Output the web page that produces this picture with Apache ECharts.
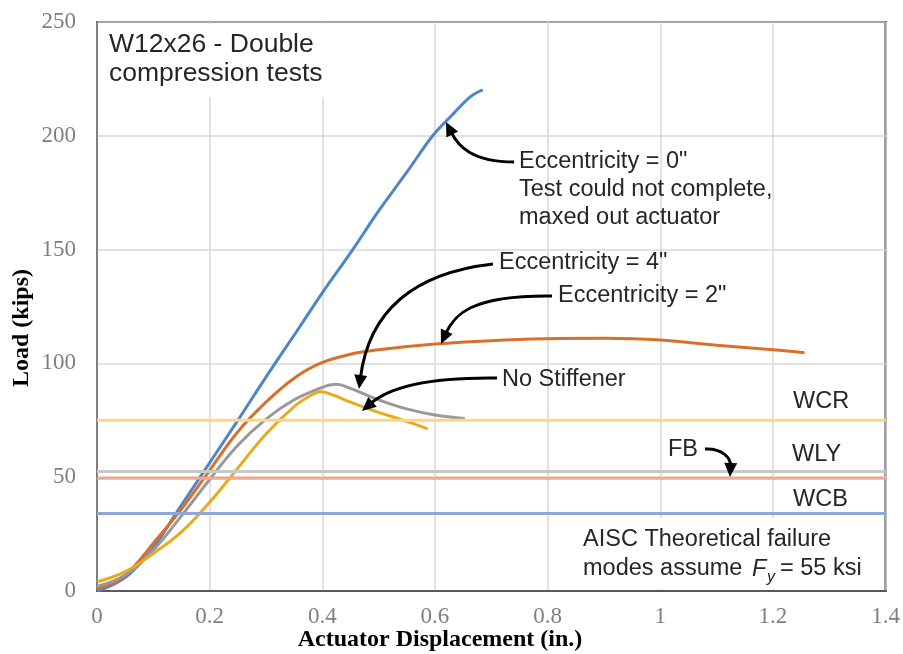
<!DOCTYPE html>
<html>
<head>
<meta charset="utf-8">
<script src="https://cdn.jsdelivr.net/npm/echarts@6/dist/echarts.min.js"></script>
<style>
  html, body { margin: 0; padding: 0; background: #fff; }
  #container { width: 903px; height: 654px; }
</style>
</head>
<body>
<div id="container"></div>
<script>
// test curves, [displacement (in.), load (kips)]
var ecc0 = [[0,0],[0.03,3],[0.06,8],[0.1,19],[0.14,34],[0.183,50],[0.25,75],[0.3,94],[0.357,115],
    [0.4,131],[0.454,150],[0.5,167],[0.55,184],[0.596,200],[0.63,209],[0.662,217],[0.68,219.7],[0.685,220]];
var ecc2 = [[0,1],[0.04,5],[0.07,12],[0.1,21],[0.15,36],[0.2,53],[0.25,70],[0.3,83],[0.35,93.5],[0.396,100],
    [0.45,104],[0.5,106],[0.6,108.5],[0.7,110],[0.8,110.8],[0.9,111],[1.0,110.3],[1.1,108],[1.2,106],[1.256,104.7]];
var ecc4 = [[0,2],[0.05,7],[0.1,18],[0.15,33],[0.2,49],[0.25,64],[0.3,75.5],[0.35,84],[0.4,89.5],[0.425,90.8],
    [0.45,89],[0.5,84],[0.55,80],[0.6,77.3],[0.653,75.8]];
var noStiff = [[0,4],[0.05,8.5],[0.1,16.5],[0.15,26],[0.2,39],[0.25,54],[0.3,69],[0.35,81],[0.38,86],
    [0.397,87.5],[0.42,86],[0.45,83],[0.5,78.5],[0.55,74.5],[0.587,71.2]];

// AISC theoretical failure modes
var limitNames = ['WCR', 'WLY', 'FB', 'WCB'];
var limitLoads = [75, 52.5, 49.5, 34];
var limitColors = ['#ffd58a', '#c8c8c8', '#f4a78a', '#8ea7d8'];

var xTicks = [0, 1.4, 0.2];
var yTicks = [0, 250, 50];

var dom = document.getElementById("container");
var myChart = echarts.init(dom);

var txt = function (x, y, s, size, extra) {
    var style = {
        x: x, y: y, text: s,
        fontFamily: 'Liberation Sans, Arial, sans-serif',
        fontSize: size || 23.5,
        fill: '#262626',
        verticalAlign: 'middle'
    };
    for (var k in extra) style[k] = extra[k];
    return { type: 'text', z: 100, silent: true, style: style };
};

// curved arrow: cubic from p0 to tip, filled head
var arrow = function (p0, c1, c2, tip) {
    var dx = tip[0] - c2[0], dy = tip[1] - c2[1];
    var len = Math.sqrt(dx * dx + dy * dy);
    var ux = dx / len, uy = dy / len;
    var hl = 14, hw = 6.5;
    var bx = tip[0] - ux * hl, by = tip[1] - uy * hl;
    return [{
        type: 'bezierCurve', z: 100, silent: true,
        shape: { x1: p0[0], y1: p0[1], cpx1: c1[0], cpy1: c1[1], cpx2: c2[0], cpy2: c2[1], x2: bx + ux * 3, y2: by + uy * 3 },
        style: { stroke: '#000', lineWidth: 3, fill: null }
    }, {
        type: 'polygon', z: 100, silent: true,
        shape: { points: [tip, [bx - uy * hw, by + ux * hw], [bx + uy * hw, by - ux * hw]] },
        style: { fill: '#000' }
    }];
};

var series = [
    { name: 'Eccentricity = 0"', data: ecc0, color: '#4f86c6' },
    { name: 'Eccentricity = 2"', data: ecc2, color: '#d9702a' },
    { name: 'Eccentricity = 4"', data: ecc4, color: '#999999' },
    { name: 'No Stiffener', data: noStiff, color: '#e6ac1e' }
].map(function (s) {
    return {
        name: s.name, type: 'line', data: s.data, smooth: 0.4, showSymbol: false,
        lineStyle: { color: s.color, width: 3 }, z: 3
    };
});
limitNames.forEach(function (n, i) {
    series.push({
        name: n, type: 'line', showSymbol: false, z: 4,
        data: [[xTicks[0], limitLoads[i]], [xTicks[1], limitLoads[i]]],
        lineStyle: { color: limitColors[i], width: 3 }
    });
});

var graphics = [
    { type: 'rect', z: 1, silent: true, shape: { x: 99, y: 24, width: 322, height: 73 }, style: { fill: '#fff' } },
    { type: 'rect', z: 1, silent: true, shape: { x: 575, y: 518, width: 309, height: 71 }, style: { fill: '#fff' } },
    txt(109, 45, 'W12x26 - Double', 26.5),
    txt(109, 74, 'compression tests', 26.5),
    txt(519, 162, 'Eccentricity = 0"'),
    txt(519, 190, 'Test could not complete,'),
    txt(519, 218, 'maxed out actuator'),
    txt(499, 263, 'Eccentricity = 4"'),
    txt(558, 296, 'Eccentricity = 2"'),
    txt(502, 380, 'No Stiffener'),
    txt(793, 402, 'WCR'),
    txt(668, 450, 'FB'),
    txt(792, 455, 'WLY'),
    txt(793, 500, 'WCB'),
    txt(583, 540, 'AISC Theoretical failure'),
    txt(583, 569, 'modes assume'),
    txt(752, 569, 'F', 23.5, { fontStyle: 'italic' }),
    txt(767, 578, 'y', 16, { fontStyle: 'italic' }),
    txt(780, 569, '= 55 ksi'),
    { type: 'text', z: 100, silent: true, style: {
        x: 440, y: 640, text: 'Actuator Displacement (in.)', align: 'center', verticalAlign: 'middle',
        fontFamily: 'Liberation Serif, Times New Roman, serif', fontWeight: 'bold', fontSize: 24, fill: '#000' } },
    { type: 'text', z: 100, silent: true, x: 22, y: 328, rotation: Math.PI / 2, style: {
        x: 0, y: 0, text: 'Load (kips)', align: 'center', verticalAlign: 'middle',
        fontFamily: 'Liberation Serif, Times New Roman, serif', fontWeight: 'bold', fontSize: 24, fill: '#000' } }
];
graphics = graphics.concat(
    arrow([514, 162], [472, 162], [458, 146], [446, 122]),
    arrow([493, 264], [405, 274], [368, 318], [359, 389]),
    arrow([552, 296], [470, 295], [454, 315], [441, 344]),
    arrow([497, 378], [420, 377], [386, 390], [362, 411]),
    arrow([705, 449], [722, 448], [731, 458], [730, 477])
);

var axisLabel = {
    fontFamily: 'Liberation Serif, Times New Roman, serif', fontSize: 23, color: '#7f7f7f'
};

var option = {
    animation: false,
    backgroundColor: '#fff',
    grid: {
        left: 97, right: 17, top: 22, bottom: 63,
        show: true, borderColor: '#000', borderWidth: 2, backgroundColor: 'transparent'
    },
    xAxis: {
        type: 'value', min: xTicks[0], max: xTicks[1], interval: xTicks[2],
        axisLine: { show: true, onZero: false, lineStyle: { color: '#595959', width: 2 } },
        axisTick: { show: false },
        axisLabel: Object.assign({ margin: 14 }, axisLabel),
        splitLine: { show: true, lineStyle: { color: '#d9d9d9', width: 1.5 } }
    },
    yAxis: {
        type: 'value', min: yTicks[0], max: yTicks[1], interval: yTicks[2],
        axisLine: { show: true, lineStyle: { color: '#7f7f7f', width: 2 } },
        axisTick: { show: false },
        axisLabel: Object.assign({ margin: 21 }, axisLabel),
        splitLine: { show: true, lineStyle: { color: '#d9d9d9', width: 1.5 } }
    },
    series: series,
    graphic: graphics
};

if (option && typeof option === "object") {
    myChart.setOption(option, true);
}
</script>
</body>
</html>
